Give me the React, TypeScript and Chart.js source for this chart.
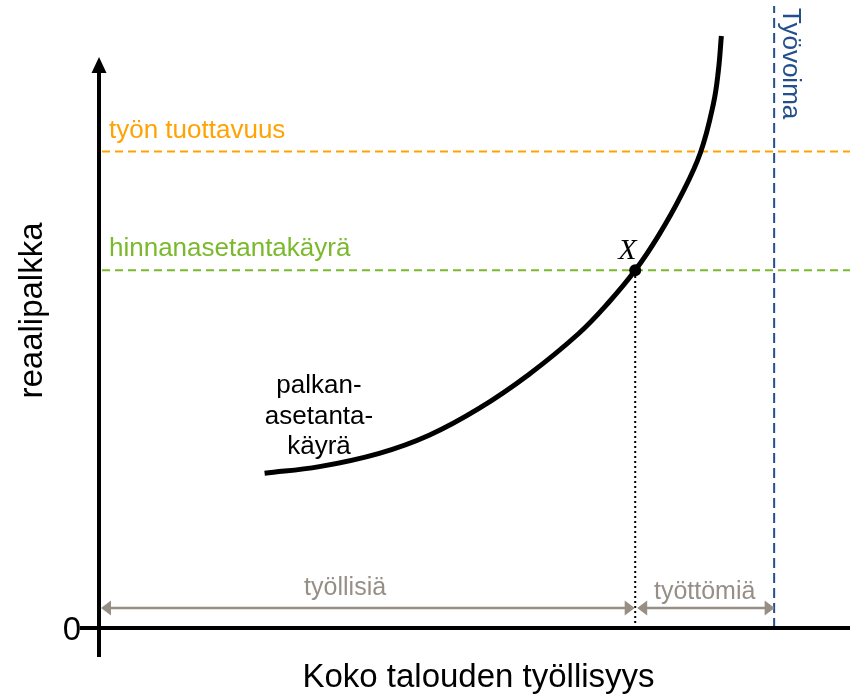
import React, { useEffect, useRef } from "react";
import { Chart, registerables } from "chart.js";

Chart.register(...registerables);

// Wage-setting curve (employment index, real wage index)
const employment = [22.05, 29.35, 37.32, 43.96, 50.6, 57.24, 63.88, 67.86, 71.4, 74.5, 77.56, 80.08, 81.81, 82.47, 82.87];
const realWage = [24.88, 25.95, 28.09, 31.0, 35.31, 40.77, 47.35, 52.33, 57.5, 63.08, 69.66, 76.4, 84.27, 89.57, 95.18];

const productivityLevel = 76.6;
const priceSettingLevel = 57.5;
const laborForce = 89.9;
const equilibriumEmployment = 71.4;
const equilibriumWage = 57.5;
const bracketLevel = 3.2;

const axisTitleX = "Koko talouden työllisyys";
const axisTitleY = "reaalipalkka";
const zeroLabel = "0";
const productivityLabel = "työn tuottavuus";
const priceSettingLabel = "hinnanasetantakäyrä";
const laborForceLabel = "Työvoima";
const curveLabel = ["palkan-", "asetanta-", "käyrä"];
const pointLabel = "X";
const employedLabel = "työllisiä";
const unemployedLabel = "työttömiä";

const ORANGE = "#FFA305";
const GREEN = "#7AB92C";
const BLUE = "#23508C";
const GREY = "#978F86";
const SANS = "'Liberation Sans', Arial, sans-serif";

function arrowHead(ctx: CanvasRenderingContext2D, tipX: number, tipY: number, dir: number, len: number, half: number) {
  ctx.beginPath();
  ctx.moveTo(tipX, tipY);
  ctx.lineTo(tipX - dir * len, tipY - half);
  ctx.lineTo(tipX - dir * len, tipY + half);
  ctx.closePath();
  ctx.fill();
}

function doubleArrow(ctx: CanvasRenderingContext2D, x1: number, x2: number, y: number) {
  ctx.save();
  ctx.strokeStyle = GREY;
  ctx.fillStyle = GREY;
  ctx.lineWidth = 2.5;
  ctx.beginPath();
  ctx.moveTo(x1 + 8, y);
  ctx.lineTo(x2 - 8, y);
  ctx.stroke();
  arrowHead(ctx, x1, y, -1, 10, 7.5);
  arrowHead(ctx, x2, y, 1, 10, 7.5);
  ctx.restore();
}

const diagramPlugin = {
  id: "diagram",
  afterDatasetsDraw(chart: any) {
    const ctx: CanvasRenderingContext2D = chart.ctx;
    const xs = chart.scales.x;
    const ys = chart.scales.y;
    const x0 = xs.getPixelForValue(0);
    const y0 = ys.getPixelForValue(0);
    const area = chart.chartArea;

    ctx.save();
    // Axes
    ctx.strokeStyle = "#000";
    ctx.fillStyle = "#000";
    ctx.lineWidth = 4;
    ctx.beginPath();
    ctx.moveTo(x0 - 19, y0);
    ctx.lineTo(area.right, y0);
    ctx.stroke();
    const tipY = area.top + 51;
    ctx.beginPath();
    ctx.moveTo(x0, y0 + 29);
    ctx.lineTo(x0, tipY + 12);
    ctx.stroke();
    ctx.beginPath();
    ctx.moveTo(x0, tipY);
    ctx.lineTo(x0 - 7.5, tipY + 16);
    ctx.lineTo(x0 + 7.5, tipY + 16);
    ctx.closePath();
    ctx.fill();

    // Brackets
    const yb = ys.getPixelForValue(bracketLevel);
    const xe = xs.getPixelForValue(equilibriumEmployment);
    const xl = xs.getPixelForValue(laborForce);
    doubleArrow(ctx, x0 + 2, xe - 0.5, yb);
    doubleArrow(ctx, xe + 2, xl + 0.5, yb);

    // Texts
    ctx.textBaseline = "alphabetic";
    ctx.fillStyle = "#000";
    ctx.font = `33px ${SANS}`;
    ctx.textAlign = "center";
    ctx.fillText(axisTitleX, (x0 + area.right) / 2 + 4, y0 + 59);
    ctx.textAlign = "right";
    ctx.fillText(zeroLabel, x0 - 18, y0 + 12);

    ctx.save();
    ctx.translate(42, (y0 + tipY) / 2 - 32);
    ctx.rotate(-Math.PI / 2);
    ctx.textAlign = "center";
    ctx.fillText(axisTitleY, 0, 0);
    ctx.restore();

    ctx.font = `26px ${SANS}`;
    ctx.textAlign = "left";
    ctx.fillStyle = ORANGE;
    ctx.fillText(productivityLabel, x0 + 10, ys.getPixelForValue(productivityLevel) - 14);
    ctx.fillStyle = GREEN;
    ctx.fillText(priceSettingLabel, x0 + 10, ys.getPixelForValue(priceSettingLevel) - 14);

    ctx.fillStyle = "#000";
    ctx.textAlign = "center";
    curveLabel.forEach((t, i) => ctx.fillText(t, 319, 393 + i * 30.5));

    ctx.fillStyle = GREY;
    ctx.font = `25px ${SANS}`;
    ctx.fillText(employedLabel, (x0 + xe) / 2 - 22, yb - 13);
    ctx.fillText(unemployedLabel, (xe + xl) / 2, yb - 9);

    ctx.save();
    ctx.fillStyle = BLUE;
    ctx.font = `26px ${SANS}`;
    ctx.translate(xl + 9, area.top + 2);
    ctx.rotate(Math.PI / 2);
    ctx.textAlign = "left";
    ctx.fillText(laborForceLabel, 0, 0);
    ctx.restore();

    ctx.fillStyle = "#000";
    ctx.font = `italic 30px 'Liberation Serif', 'Times New Roman', serif`;
    ctx.textAlign = "left";
    ctx.fillText(pointLabel, xe - 17, ys.getPixelForValue(equilibriumWage) - 11);
    ctx.restore();
  },
};

export default function App() {
  const ref = useRef<HTMLCanvasElement | null>(null);
  useEffect(() => {
    if (!ref.current) return;
    const chart = new Chart(ref.current, {
      type: "scatter",
      data: {
        datasets: [
          {
            label: "palkanasetantakäyrä",
            data: employment.map((x, i) => ({ x, y: realWage[i] })),
            showLine: true,
            borderColor: "#000",
            borderWidth: 5,
            pointRadius: 0,
            tension: 0.4,
            order: 1,
            clip: false,
          },
          {
            label: "X",
            data: [{ x: equilibriumEmployment, y: equilibriumWage }],
            pointRadius: 6,
            pointBackgroundColor: "#000",
            pointBorderColor: "#000",
            pointBorderWidth: 0,
            order: 0,
            clip: false,
          },
          {
            label: "työn tuottavuus",
            data: [{ x: 0.4, y: productivityLevel }, { x: 100, y: productivityLevel }],
            showLine: true,
            borderColor: ORANGE,
            borderWidth: 2,
            borderDash: [8, 5],
            pointRadius: 0,
            order: 3,
            clip: false,
          },
          {
            label: "hinnanasetantakäyrä",
            data: [{ x: 0.4, y: priceSettingLevel }, { x: 100, y: priceSettingLevel }],
            showLine: true,
            borderColor: GREEN,
            borderWidth: 2,
            borderDash: [8, 5],
            pointRadius: 0,
            order: 3,
            clip: false,
          },
          {
            label: "Työvoima",
            data: [{ x: laborForce, y: 0 }, { x: laborForce, y: 100 }],
            showLine: true,
            borderColor: BLUE,
            borderWidth: 2,
            borderDash: [10, 5],
            pointRadius: 0,
            order: 3,
            clip: false,
          },
          {
            label: "työllisyys",
            data: [{ x: equilibriumEmployment, y: 0 }, { x: equilibriumEmployment, y: equilibriumWage }],
            showLine: true,
            borderColor: "#000",
            borderWidth: 2,
            borderDash: [2, 3],
            pointRadius: 0,
            order: 2,
            clip: false,
          },
        ],
      },
      options: {
        responsive: false,
        animation: false,
        layout: { padding: { left: 99, right: 4, top: 5, bottom: 67 } },
        scales: {
          x: { type: "linear", min: 0, max: 100, display: false },
          y: { type: "linear", min: 0, max: 100, display: false },
        },
        plugins: { legend: { display: false }, tooltip: { enabled: false } },
      },
      plugins: [diagramPlugin],
    } as any);
    return () => chart.destroy();
  }, []);
  return (
    <div style={{ position: "absolute", left: 0, top: 0, width: 856, height: 695, background: "#fff" }}>
      <canvas ref={ref} width={856} height={695} style={{ display: "block" }} />
    </div>
  );
}
